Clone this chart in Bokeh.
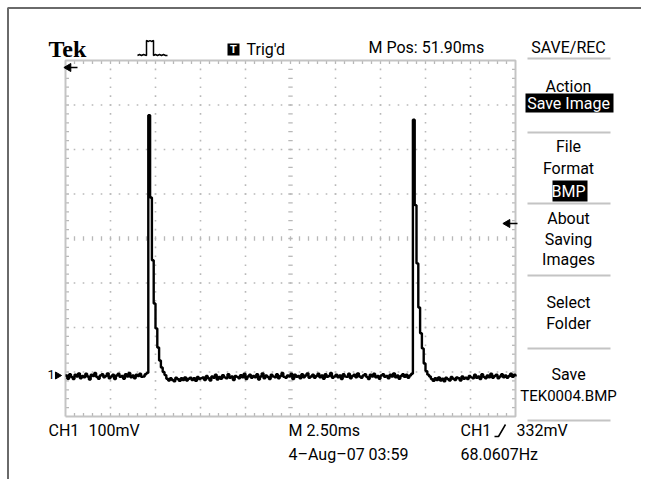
import numpy as np
from bokeh.plotting import figure
from bokeh.models import Range1d
from bokeh.core.properties import value
from bokeh.embed import file_html
from bokeh.resources import INLINE

# ---------------- data ----------------
SAMPLE_MS = 0.1          # one displayed sample every 0.1 ms (2.50 ms/div, 10 div)
signal_mv = [
    # baseline before first pulse (idx 0-45)
    4, -3, 7, 1, -4, 6, 2, 9, -2, 3, 0, 8, 2, -5, 6, 3, 10, 1, -3, 4,
    7, 0, 3, 9, -2, 2, 6, -4, 4, 8, 1, 3, -3, 7, 2, 10, 0, 4, -2, 6,
    3, 8, 1, 2, 7, 10,
    # first pulse (idx 46-55)
    589, 404, 263, 166, 110, 67, 38, 22, 12, 5,
    # baseline between pulses (idx 56-192)
    -3, -7, -2, -6, -9, -1, -4, -8, -2, -6, 0, -7, -3, -1, -6, -2, -8, 1, -4, -2,
    0, -6, 3, -2, -7, 2, -1, 6, -5, 1, -3, 5, 0, -2, 7, -1, 2, -6, 3, 1,
    -2, 5, 0, 8, -4, 2, 6, -1, 3, 0, 7, -5, 2, 9, -2, 4, 1, -4, 6, 2,
    0, 7, -2, 3, 10, 1, -1, 4, 2, 8, -4, 6, 1, 3, -2, 7, 0, 4, 9, -1,
    2, 6, -1, 3, 8, 0, 4, -3, 7, 1, 3, 10, -1, 2, 6, 0, 4, -4, 7, 2,
    1, 8, -2, 3, 6, 0, 9, 2, -1, 4, 7, 1, -4, 6, 2, 8, 0, 3, -3, 4,
    7, 1, 3, -2, 6, 2, 9, 0, 4, -3, 3, 7, 1, 6, -1, 4, 8,
    # second pulse (idx 193-202)
    579, 387, 256, 157, 99, 65, 31, 14, 6, 2,
    # baseline after second pulse (idx 203-250)
    -4, -8, -2, -6, 0, -7, -3, -9, -1, -4, -7, 1, -3, -6, 0, -2, -7, 2, -3, -1,
    -4, 3, 0, -2, 6, -1, 2, -4, 7, 1, -2, 4, 0, 8, -1, 3, 6, -2, 2, 7,
    0, 4, -1, 3, 8, 1, 6, 2,
]
time_ms = [i * SAMPLE_MS for i in range(len(signal_mv))]

# screen divisions: 10 x 2.5 ms, 8 x 100 mV (ground 0.88 div above bottom)
X_DIVS = 10
MS_PER_DIV = 2.5
Y_DIVS = 8
MV_PER_DIV = 100
MV_BOTTOM = -88

header = {"brand": "Tek", "trig": "Trig'd", "mpos": "M Pos: 51.90ms", "menu": "SAVE/REC"}
footer = {"ch": "CH1", "volts": "100mV", "time": "M 2.50ms", "date": "4\u2013Aug\u201307 03:59",
          "trig_ch": "CH1", "trig_level": "332mV", "freq": "68.0607Hz"}
menu_items = ["Action", "Save Image", "File", "Format", "BMP", "About", "Saving",
              "Images", "Select", "Folder", "Save", "TEK0004.BMP"]

# ---------------- layout helpers (page pixels -> data) ----------------
W, H = 641, 479
def sx(px):
    return (px - 65.0) / 18.0
def sy(py):
    return MV_BOTTOM + (416.0 - py) / 0.445

FONT = "Roboto"

p = figure(width=W, height=H, output_backend="svg", toolbar_location=None,
           x_range=Range1d(sx(0), sx(W)), y_range=Range1d(sy(H), sy(0)),
           x_axis_location=None, y_axis_location=None, min_border=0)
p.grid.visible = False
p.outline_line_color = None
p.background_fill_color = "white"
p.border_fill_color = "white"

GRID = "#b8b8b8"
X_END = X_DIVS * MS_PER_DIV
Y_TOP = MV_BOTTOM + Y_DIVS * MV_PER_DIV

# outer frame of the screenshot (top and left edges)
p.line([sx(7.5), sx(7.5), sx(W)], [sy(H), sy(7.5), sy(7.5)], line_color="#6a6a6a", line_width=2)

# ---------------- graticule ----------------
sub_x = [MS_PER_DIV / 5 * m for m in range(1, X_DIVS * 5)]
sub_y = [MV_BOTTOM + MV_PER_DIV / 5 * m for m in range(1, Y_DIVS * 5)]
dx, dy = [], []
for k in range(1, X_DIVS):
    if k == X_DIVS // 2:
        continue
    for yv in sub_y:
        dx.append(k * MS_PER_DIV); dy.append(yv)
for j in range(1, Y_DIVS):
    if j == Y_DIVS // 2:
        continue
    for xv in sub_x:
        dx.append(xv); dy.append(MV_BOTTOM + j * MV_PER_DIV)
p.scatter(dx, dy, marker="square", size=1.6, color=GRID, line_color=None)

xc = X_END / 2
yc = MV_BOTTOM + Y_DIVS / 2 * MV_PER_DIV
tx = 2.2 / 18.0
ty = 2.2 / 0.445
segs_x0, segs_y0, segs_x1, segs_y1 = [], [], [], []
for yv in sub_y:  # center vertical line ticks + side edge ticks
    segs_x0.append(xc - tx); segs_x1.append(xc + tx); segs_y0.append(yv); segs_y1.append(yv)
    segs_x0.append(0); segs_x1.append(3.5 / 18); segs_y0.append(yv); segs_y1.append(yv)
    segs_x0.append(X_END); segs_x1.append(X_END - 3.5 / 18); segs_y0.append(yv); segs_y1.append(yv)
for xv in sub_x:  # center horizontal line ticks + top/bottom edge ticks
    segs_x0.append(xv); segs_x1.append(xv); segs_y0.append(yc - ty); segs_y1.append(yc + ty)
    segs_x0.append(xv); segs_x1.append(xv); segs_y0.append(Y_TOP); segs_y1.append(Y_TOP - 3.5 / 0.445)
    segs_x0.append(xv); segs_x1.append(xv); segs_y0.append(MV_BOTTOM); segs_y1.append(MV_BOTTOM + 3.5 / 0.445)
p.segment(segs_x0, segs_y0, segs_x1, segs_y1, line_color=GRID, line_width=1.3)
p.line([0, X_END, X_END, 0, 0], [MV_BOTTOM, MV_BOTTOM, Y_TOP, Y_TOP, MV_BOTTOM],
       line_color="#c4c4c4", line_width=2)

# ---------------- trace ----------------
p.step(time_ms, signal_mv, mode="after", line_color="black", line_width=2.4)

# ---------------- text helpers ----------------
def txt(x, y, s, size=16, color="black", align="left", font=FONT, style="normal"):
    p.text(x=[sx(x)], y=[sy(y)], text=[s], text_font=value(font),
           text_font_size=f"{size}px", text_color=color, text_align=align,
           text_baseline="middle", text_font_style=style)

def box(l, r, t, b, color="black"):
    p.quad(left=[sx(l)], right=[sx(r)], top=[sy(t)], bottom=[sy(b)],
           fill_color=color, line_color=None)

# header (y = vertical centre of capitals, page pixels)
txt(48, 48, header["brand"], size=24, font="Liberation Serif", style="bold")
icon_x = [137, 139, 141, 143, 146, 146, 148, 149.5, 151, 153, 153, 155, 157, 159, 161, 163, 165, 167]
icon_y = [55, 54, 55, 54, 55, 40, 41, 40, 41, 40, 55, 54, 55, 54, 55, 54, 55, 55]
p.line([sx(v) for v in icon_x], [sy(v) for v in icon_y], line_color="black", line_width=1.5)
box(227, 239, 43, 55)
txt(233, 49, "T", size=11, color="white", align="center", style="bold")
txt(246, 48.5, header["trig"])
txt(368, 46.5, header["mpos"])
txt(568, 46.5, header["menu"], align="center")

# right menu
MX = 568
sep_y = [58, 132, 203, 275, 348, 420]
p.segment([sx(527)] * len(sep_y), [sy(v) for v in sep_y], [sx(610)] * len(sep_y),
          [sy(v) for v in sep_y], line_color="#c4c4c4", line_width=2)
box(525, 613, 93, 112)
box(552, 587, 180, 201)
menu_mid = [85.5, 102.5, 145.5, 167.5, 190.5, 217.5, 238.5, 259, 301.5, 322.5, 373.5, 395]
for s, ym in zip(menu_items, menu_mid):
    col = "white" if s in ("Save Image", "BMP") else "black"
    txt(MX, ym, s, size=16 if s != "TEK0004.BMP" else 15, color=col, align="center")

# markers: horizontal position arrow, trigger level arrow, channel 1 ground
p.scatter([sx(68)], [sy(67)], marker="triangle", angle=np.pi / 2, size=8, color="black")
p.line([sx(68), sx(77)], [sy(67), sy(67)], line_color="black", line_width=1.5)
p.scatter([sx(507)], [sy(223)], marker="triangle", angle=np.pi / 2, size=8, color="black")
p.line([sx(507), sx(517)], [sy(223), sy(223)], line_color="black", line_width=1.5)
txt(47, 374, "1", size=13)
p.scatter([sx(57)], [sy(375)], marker="triangle", angle=-np.pi / 2, size=7, color="black")

# footer
txt(48, 429.5, footer["ch"])
txt(88, 429.5, footer["volts"])
txt(288, 429.5, footer["time"])
txt(288, 454, footer["date"])
txt(460, 429.5, footer["trig_ch"])
p.line([sx(494), sx(498), sx(505)], [sy(436), sy(436), sy(424)], line_color="black", line_width=1.5)
txt(516, 429.5, footer["trig_level"])
txt(460, 454, footer["freq"])

open("out.html", "w").write(file_html(p, INLINE))
